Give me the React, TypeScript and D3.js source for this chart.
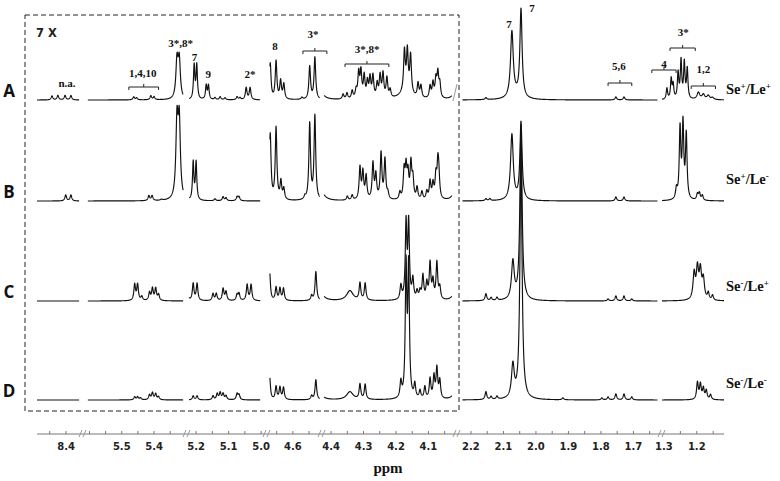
import React from "react";
import * as d3 from "d3";

// ---------- DATA ----------
// ppm domain of each broken-axis segment (left, right)
const axisSegments: [number, number][] = [
  [8.489, 8.348],
  [5.62, 5.298],
  [5.228, 4.982],
  [4.68, 4.51],
  [4.428, 4.012],
  [2.243, 1.612],
  [1.306, 1.117],
];
// ppm extent of the drawn spectrum pieces in each segment
const traceRanges: [number, number][] = [
  [8.489, 8.36],
  [5.605, 5.31],
  [5.2215, 5.003],
  [4.671, 4.517],
  [4.4215, 4.028],
  [2.226, 1.626],
  [1.306, 1.117],
];
const tickLabels: number[][] = [
  [8.4],
  [5.5, 5.4],
  [5.2, 5.1, 5.0],
  [4.6],
  [4.4, 4.3, 4.2, 4.1],
  [2.2, 2.1, 2.0, 1.9, 1.8, 1.7],
  [1.3, 1.2],
];
const rowLetters = ["A", "B", "C", "D"];
const seSigns = ["+", "+", "-", "-"];
const leSigns = ["+", "-", "+", "-"];

type Peak = [number, number, number?]; // ppm, height, half-width (ppm)

const peaksA: Peak[] = [
  [8.443, 4], [8.425, 4.5], [8.403, 4.5], [8.385, 4.5],
  [5.463, 3], [5.454, 2], [5.41, 4], [5.4, 3],
  [5.329, 38, 0.004], [5.322, 38, 0.004],
  [5.206, 34, 0.0025], [5.198, 34, 0.0025], [5.169, 14, 0.0025], [5.162, 14, 0.0025],
  [5.142, 2], [5.126, 3], [5.111, 2], [5.074, 3], [5.065, 2],
  [5.046, 12], [5.034, 12],
  [4.67, 36], [4.652, 38], [4.638, 18], [4.628, 15], [4.572, 2], [4.548, 33], [4.532, 42],
  [4.435, 10, 0.012], [4.363, 5], [4.351, 6], [4.335, 8], [4.323, 8],
  [4.315, 25], [4.308, 26], [4.298, 22], [4.288, 16], [4.28, 20], [4.271, 22], [4.258, 14],
  [4.249, 22], [4.24, 24], [4.228, 20], [4.218, 8],
  [4.17, 8, 0.02], [4.174, 40], [4.165, 40], [4.155, 38],
  [4.132, 14], [4.123, 12], [4.095, 12], [4.086, 15], [4.077, 18], [4.071, 24], [4.065, 14],
  [4.015, 14, 0.008],
  [2.154, 2], [2.06, 3, 0.02], [2.074, 66, 0.005], [2.046, 88, 0.004], [1.754, 3], [1.729, 3],
  [1.291, 11, 0.0025], [1.278, 20, 0.0025], [1.272, 14, 0.0025], [1.257, 26, 0.0025],
  [1.248, 38, 0.0025], [1.238, 36, 0.0025], [1.229, 30, 0.0025],
  [1.195, 7, 0.005], [1.18, 5, 0.005], [1.165, 4, 0.005], [1.152, 2, 0.005],
];

const peaksB: Peak[] = [
  [8.401, 6], [8.385, 6],
  [5.416, 5], [5.406, 5], [5.377, 1],
  [5.329, 76, 0.004], [5.322, 76, 0.004],
  [5.226, 4], [5.209, 38, 0.0025], [5.2, 38, 0.0025],
  [5.142, 2], [5.117, 4], [5.108, 3], [5.074, 4], [5.068, 4],
  [4.67, 66], [4.652, 72], [4.637, 18], [4.628, 11], [4.563, 3], [4.548, 76], [4.532, 84],
  [4.435, 14, 0.012], [4.35, 4], [4.335, 5],
  [4.311, 32], [4.302, 27], [4.292, 23], [4.271, 36], [4.262, 24], [4.246, 46], [4.234, 40], [4.225, 6],
  [4.188, 7], [4.175, 28], [4.169, 30], [4.163, 24], [4.154, 35], [4.148, 20], [4.135, 12],
  [4.12, 8], [4.105, 8], [4.095, 18], [4.086, 15], [4.077, 22], [4.071, 32], [4.068, 20],
  [4.015, 18, 0.008],
  [2.154, 2], [2.142, 2], [2.074, 66, 0.005], [2.046, 78, 0.004], [1.754, 4], [1.729, 4],
  [1.262, 10], [1.251, 70, 0.0028], [1.242, 74, 0.0028], [1.232, 64, 0.0028],
  [1.198, 6], [1.192, 7], [1.183, 5],
];

const peaksC: Peak[] = [
  [5.46, 16], [5.451, 16], [5.438, 4], [5.414, 8], [5.405, 12], [5.395, 12], [5.386, 6],
  [5.226, 8], [5.209, 17], [5.197, 17], [5.148, 7], [5.138, 7], [5.117, 12], [5.108, 9],
  [5.074, 6], [5.068, 7], [5.043, 16], [5.031, 16],
  [4.672, 30], [4.652, 13], [4.64, 12], [4.629, 12], [4.542, 5], [4.529, 29],
  [4.435, 10, 0.012], [4.342, 10, 0.012], [4.311, 17], [4.295, 17],
  [4.185, 14], [4.169, 76, 0.0028], [4.161, 76, 0.0028], [4.148, 20], [4.135, 8], [4.126, 8],
  [4.117, 24], [4.105, 16], [4.095, 36], [4.086, 18], [4.074, 37], [4.065, 12], [4.015, 16, 0.008],
  [2.154, 7], [2.138, 3], [2.12, 3], [2.071, 38, 0.005], [2.046, 175, 0.004],
  [1.778, 2], [1.754, 5], [1.729, 5], [1.705, 2],
  [1.208, 26, 0.004], [1.198, 30, 0.004], [1.189, 28, 0.004], [1.18, 20, 0.004], [1.165, 7], [1.152, 5],
];

const peaksD: Peak[] = [
  [5.46, 3], [5.451, 3], [5.442, 2], [5.414, 5], [5.405, 7], [5.395, 6], [5.386, 3],
  [5.209, 4], [5.197, 4], [5.148, 4], [5.135, 6], [5.126, 7], [5.117, 6], [5.108, 4], [5.074, 6], [5.068, 5],
  [4.672, 24], [4.652, 13], [4.64, 12], [4.629, 12], [4.542, 4], [4.529, 20],
  [4.435, 6, 0.012], [4.342, 8, 0.012], [4.311, 15], [4.295, 15],
  [4.185, 16], [4.169, 130, 0.0028], [4.161, 130, 0.0028], [4.142, 14], [4.126, 8], [4.111, 12],
  [4.095, 20], [4.083, 22], [4.074, 30], [4.065, 18], [4.015, 14, 0.008],
  [2.154, 8], [2.138, 3], [2.12, 3], [2.071, 33, 0.005], [2.046, 240, 0.004],
  [1.917, 2], [1.797, 2], [1.778, 3], [1.754, 6], [1.729, 6], [1.705, 3],
  [1.198, 17], [1.189, 15], [1.18, 11], [1.171, 9], [1.158, 5],
];
const spectra: Peak[][] = [peaksA, peaksB, peaksC, peaksD];

// peak assignments (row A)
const annotationTexts = ["n.a.", "1,4,10", "3*,8*", "7", "9", "2*", "8", "3*", "3*,8*", "7", "7", "5,6", "4", "3*", "1,2"];
const annotationSeg = [0, 1, 1, 2, 2, 2, 3, 3, 4, 5, 5, 5, 6, 6, 6];
const annotationPpm = [8.397, 5.435, 5.318, 5.205, 5.163, 5.034, 4.655, 4.538, 4.289, 2.083, 2.012, 1.745, 1.3, 1.2415, 1.18];
// brackets: segment, ppm from, ppm to
const bracketSeg = [1, 3, 4, 5, 6, 6, 6];
const bracketFrom = [5.478, 4.569, 4.357, 1.778, 1.337, 1.2815, 1.217];
const bracketTo = [5.386, 4.495, 4.222, 1.705, 1.263, 1.2046, 1.143];

// ---------- LAYOUT ----------
const W = 780;
const H = 481;
const segmentPx: [number, number][] = [
  [37, 83], [83, 187], [187, 267], [267, 322], [322, 457], [457, 662], [662, 724],
];
const baselines = [100, 201, 301, 400];
const axisY = 434;
const annotationY = [87, 77, 47, 61, 78, 78, 50, 38, 53, 28, 12, 70, 68, 36, 73];
const bracketY = [87, 51, 64, 83, 70, 48, 86];
const serif = "'Liberation Serif', 'Times New Roman', serif";
const sansTick = "'DejaVu Sans', Verdana, sans-serif";
const sansLetter = "'Open Sans', 'Liberation Sans', Arial, sans-serif";

function intensity(peaks: Peak[], ppm: number): number {
  let s = 0;
  for (const p of peaks) {
    const w = p[2] ?? 0.003;
    const d = (ppm - p[0]) / w;
    s += p[1] / (1 + d * d);
  }
  return s;
}

export default function App() {
  const xScales = axisSegments.map((d, i) => d3.scaleLinear().domain(d).range(segmentPx[i]));
  const yAmp = d3.scaleLinear().domain([0, 100]).range([0, 100]);
  const line = d3.line<[number, number]>().x((d) => d[0]).y((d) => d[1]);

  const paths: { d: string; key: string }[] = [];
  spectra.forEach((peaks, r) => {
    traceRanges.forEach(([a, b], s) => {
      const n = Math.ceil((a - b) / 0.0005);
      const pts: [number, number][] = d3.range(n + 1).map((k) => {
        const ppm = a - ((a - b) * k) / n;
        return [xScales[s](ppm), baselines[r] - yAmp(intensity(peaks, ppm))];
      });
      paths.push({ d: line(pts) || "", key: `${r}-${s}` });
    });
  });

  // axis ticks
  const ticks: { x: number; major: boolean }[] = [];
  axisSegments.forEach(([a, b], s) => {
    const lo = Math.ceil(b * 20 - 1e-9);
    const hi = Math.floor(a * 20 + 1e-9);
    for (let k = lo; k <= hi; k++) {
      const v = k / 20;
      const x = xScales[s](v);
      if (x < segmentPx[s][0] + 3 || x > segmentPx[s][1] - 3) continue;
      ticks.push({ x, major: k % 2 === 0 });
    }
  });
  const breaks = segmentPx.slice(1).map((p) => p[0]);

  return (
    <svg width={W} height={H} style={{ position: "fixed", left: 0, top: 0, background: "#fff" }}>
      <rect x={0} y={0} width={W} height={H} fill="#fff" />
      {/* dashed box */}
      <rect x={25} y={15} width={434} height={396} fill="none" stroke="#222" strokeWidth={1} strokeDasharray="5,3" />
      <text x={36} y={37} fontFamily={sansTick} fontWeight="bold" fontSize={11.5} fill="#222">7 X</text>

      {/* spectra */}
      {paths.map((p) => (
        <path key={p.key} d={p.d} fill="none" stroke="#111" strokeWidth={1.15} strokeLinejoin="round" />
      ))}
      <line x1={453} y1={101} x2={457} y2={84} stroke="#999" strokeWidth={1} />

      {/* row letters */}
      {rowLetters.map((t, i) => (
        <text key={t} x={9} y={baselines[i] - 3} textAnchor="middle" fontFamily={sansLetter} fontWeight="bold" fontSize={17} fill="#111">{t}</text>
      ))}
      {/* sample labels */}
      {rowLetters.map((t, i) => (
        <text key={"s" + t} x={726} y={[94, 184, 291, 388][i]} fontFamily={serif} fontWeight="bold" fontSize={14.5} fill="#111">
          Se<tspan dy={-5} fontSize={9}>{seSigns[i]}</tspan>
          <tspan dy={5}>/Le</tspan>
          <tspan dy={-5} fontSize={9}>{leSigns[i]}</tspan>
        </text>
      ))}

      {/* annotations */}
      {annotationTexts.map((t, i) => (
        <text key={"a" + i} x={xScales[annotationSeg[i]](annotationPpm[i])} y={annotationY[i]} textAnchor="middle"
          fontFamily={serif} fontWeight="bold" fontSize={11} fill="#111">{t}</text>
      ))}
      {bracketSeg.map((s, i) => {
        const x1 = xScales[s](bracketFrom[i]);
        const x2 = xScales[s](bracketTo[i]);
        const y = bracketY[i];
        const xm = (x1 + x2) / 2;
        return (
          <path key={"b" + i} d={`M${x1},${y + 3}V${y}H${x2}V${y + 3}M${xm},${y}V${y - 3}`} fill="none" stroke="#222" strokeWidth={1} />
        );
      })}

      {/* axis */}
      <line x1={37} x2={724} y1={axisY} y2={axisY} stroke="#777" strokeWidth={1} />
      {ticks.map((t, i) => (
        <line key={"t" + i} x1={t.x} x2={t.x} y1={axisY} y2={axisY - 3} stroke="#777" strokeWidth={1} />
      ))}
      {breaks.map((x, i) => (
        <g key={"br" + i} stroke="#999" strokeWidth={1}>
          <line x1={x - 4} y1={axisY + 3} x2={x - 1} y2={axisY - 4} />
          <line x1={x} y1={axisY + 3} x2={x + 3} y2={axisY - 4} />
        </g>
      ))}
      {tickLabels.map((vals, s) =>
        vals.map((v) => (
          <text key={`l${s}-${v}`} x={xScales[s](v)} y={450} textAnchor="middle" fontFamily={sansTick} fontWeight="bold" fontSize={10} fill="#222">
            {v.toFixed(1)}
          </text>
        ))
      )}
      <text x={388} y={473} textAnchor="middle" fontFamily={serif} fontWeight="bold" fontSize={15} fill="#111">ppm</text>
    </svg>
  );
}
